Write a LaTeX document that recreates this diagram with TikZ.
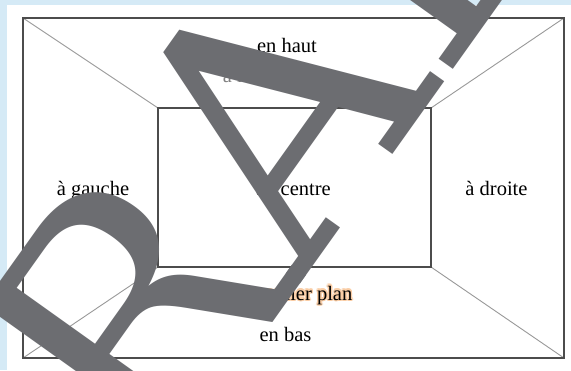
\documentclass[tikz,border=0pt]{standalone}
\usepackage{fontspec}
\setmainfont{Liberation Serif}
\newfontfamily\wmfont{DejaVu Serif}
\definecolor{bgblue}{RGB}{213,234,246}
\definecolor{wmgray}{RGB}{108,109,113}
\definecolor{glow}{RGB}{250,205,165}
\tikzset{
  lbl/.style={font=\fontsize{20.5}{24}\selectfont, anchor=base, inner sep=0pt},
  frame/.style={draw=black!70, line width=1.3pt},
  diag/.style={draw=black!40, line width=0.9pt},
}
\begin{document}
\begin{tikzpicture}[x=1pt,y=-1pt]
  \useasboundingbox (0,0) rectangle (571,370);
  \clip (0,0) rectangle (571,370);
  \fill[bgblue] (0,0) rectangle (571,370);
  \fill[white] (7,5) rectangle (571,370);
  % outer and inner corners
  \coordinate (o1) at (23,18);
  \coordinate (o2) at (564,18);
  \coordinate (o3) at (564,358);
  \coordinate (o4) at (23,358);
  \coordinate (i1) at (158,108);
  \coordinate (i2) at (431,108);
  \coordinate (i3) at (431,267);
  \coordinate (i4) at (158,267);
  \foreach \k in {1,...,4}
    \draw[diag] (o\k) -- (i\k);
  \draw[frame] (o1) rectangle (o3);
  \draw[frame] (i1) rectangle (i3);
  % labels
  \node[lbl] (haut) at (287,52) {en haut};
  \node[lbl,text=black!50] (arriere) at (263,82) {à l’arrière};
  \node[lbl] (gauche) at (93,195) {à gauche};
  \node[lbl] (centre) at (293.5,195) {au centre};
  \node[lbl] (droite) at (496.5,195) {à droite};
  \foreach \a in {0,30,...,330}
    \node[lbl,text=glow,shift={(\a:1.4)}] (glow\a) at (288,300) {au premier plan};
  \node[lbl] (premier) at (288,300) {au premier plan};
  \node[lbl] (bas) at (285.5,341) {en bas};
  % watermark
  \node[font=\wmfont\fontsize{337}{337}\selectfont, text=wmgray, rotate=54.5,
        anchor=base west, inner sep=0pt] (draft) at (-3,709) {DRAFT};
\end{tikzpicture}
\end{document}
